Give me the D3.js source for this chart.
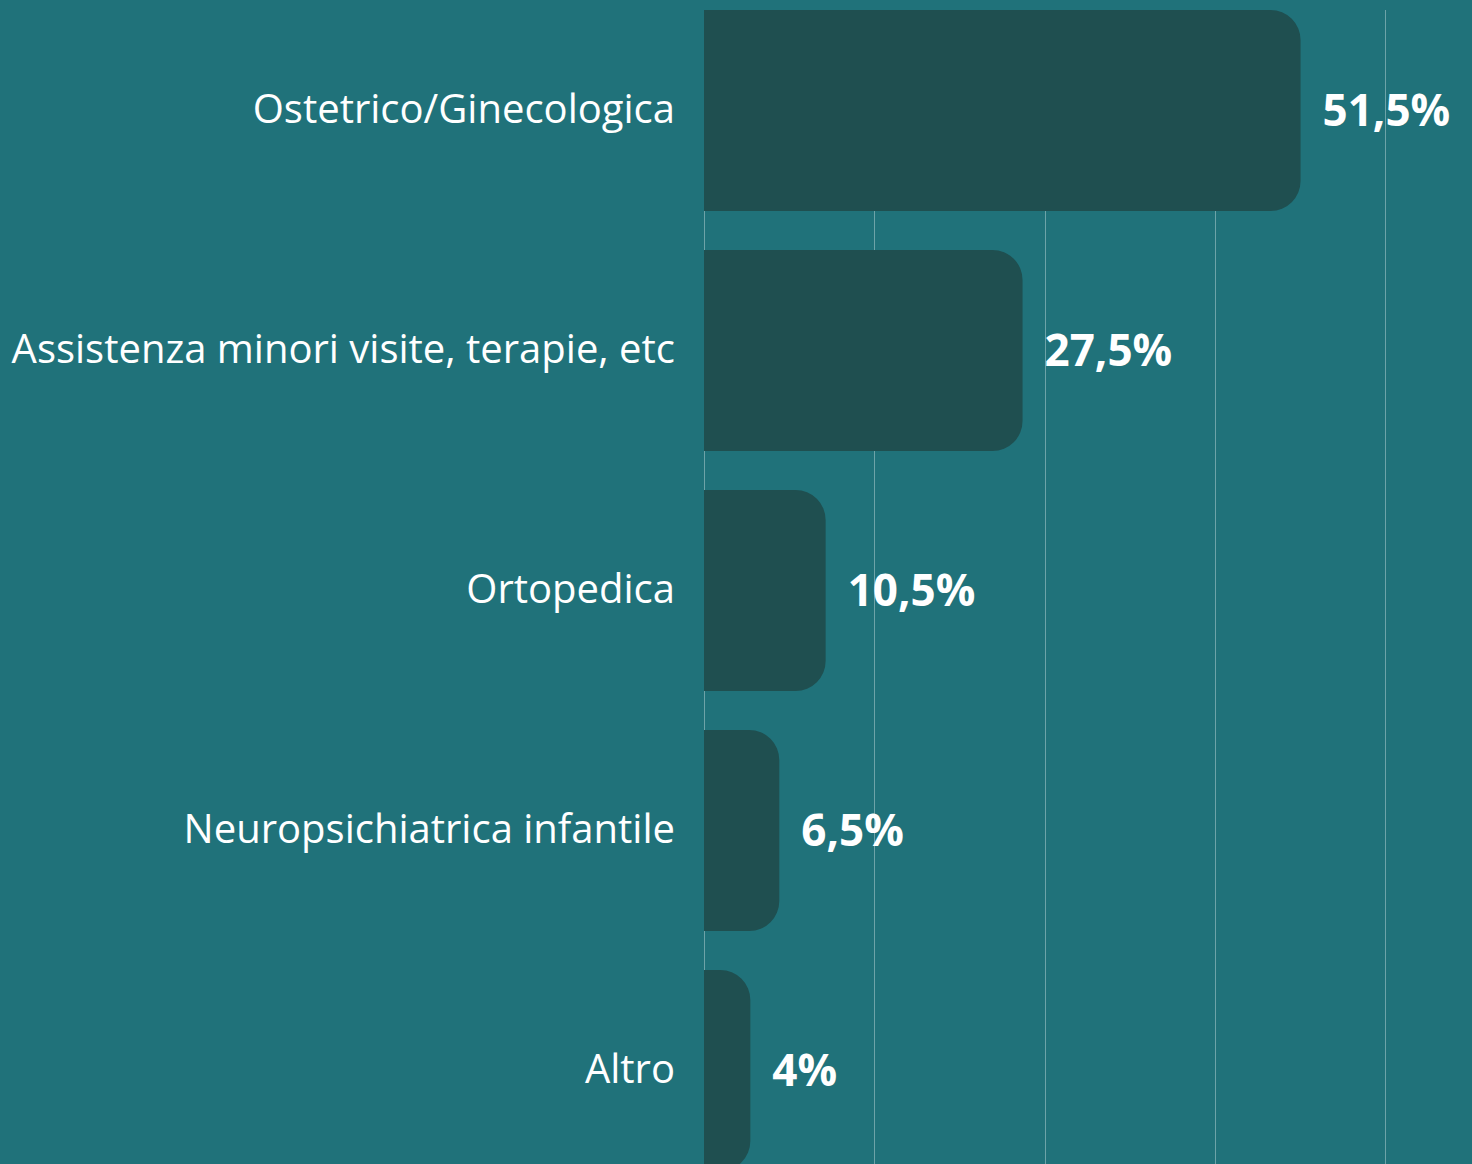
<!DOCTYPE html>
<html lang="it">
<head>
<meta charset="UTF-8">
<title>Chart</title>
<script src="https://cdn.jsdelivr.net/npm/d3@7"></script>
<style>
    html, body { margin: 0; padding: 0; background: #20727a; }
    svg { display: block; }
    .label { font-family: "Open Sans", sans-serif; font-size: 40px; fill: #ffffff; }
    .value { font-family: "Open Sans", sans-serif; font-size: 44px; font-weight: 700; fill: #ffffff; }
</style>
</head>
<body>
<script>
    // dati
    var categories = ["Ostetrico/Ginecologica", "Assistenza minori visite, terapie, etc", "Ortopedica", "Neuropsichiatrica infantile", "Altro"]
    var values = [51.5, 27.5, 10.5, 6.5, 4]
    var valueLabels = ["51,5%", "27,5%", "10,5%", "6,5%", "4%"]
    var gridTicks = [0, 14.7, 29.4, 44.1, 58.8]

    var width = 1472, height = 1164
    var marginLeft = 704, marginTop = 10

    var svg = d3.select("body").append("svg")
        .attr("width", width)
        .attr("height", height)

    svg.append("rect")
        .attr("width", width).attr("height", height)
        .attr("fill", "#20727a")

    var x = d3.scaleLinear()
        .domain([0, 66.3])
        .range([marginLeft, marginLeft + 768])

    // passo 240px, barra 201px
    var y = d3.scaleBand()
        .domain(categories)
        .range([marginTop, marginTop + 1161])
        .paddingInner(0.1625)
        .paddingOuter(0)

    // griglia verticale
    svg.append("g")
        .selectAll("line")
        .data(gridTicks)
        .enter()
        .append("line")
        .attr("x1", function(d) { return Math.round(x(d)) + 0.5 })
        .attr("x2", function(d) { return Math.round(x(d)) + 0.5 })
        .attr("y1", marginTop)
        .attr("y2", height)
        .attr("stroke", "rgba(255,255,255,0.35)")
        .attr("stroke-width", 1)

    // barre con angoli destri arrotondati
    var r = 30
    function barPath(d, i) {
        var x0 = x(0), x1 = x(d), y0 = y(categories[i]), h = y.bandwidth()
        var rr = Math.min(r, (x1 - x0))
        return "M" + x0 + "," + y0 +
            "H" + (x1 - rr) +
            "A" + rr + "," + rr + " 0 0 1 " + x1 + "," + (y0 + rr) +
            "V" + (y0 + h - rr) +
            "A" + rr + "," + rr + " 0 0 1 " + (x1 - rr) + "," + (y0 + h) +
            "H" + x0 + "Z"
    }

    svg.append("g")
        .selectAll("path")
        .data(values)
        .enter()
        .append("path")
        .attr("d", barPath)
        .attr("fill", "#1f4f50")

    // etichette categorie
    svg.append("g")
        .selectAll("text")
        .data(categories)
        .enter()
        .append("text")
        .attr("class", "label")
        .attr("x", marginLeft - 29)
        .attr("y", function(d) { return y(d) + y.bandwidth() / 2 })
        .attr("dy", "0.3em")
        .attr("text-anchor", "end")
        .text(function(d) { return d })

    // etichette valori
    svg.append("g")
        .selectAll("text")
        .data(values)
        .enter()
        .append("text")
        .attr("class", "value")
        .attr("x", function(d) { return x(d) + 22 })
        .attr("y", function(d, i) { return y(categories[i]) + y.bandwidth() / 2 })
        .attr("dy", "0.35em")
        .text(function(d, i) { return valueLabels[i] })
</script>
</body>
</html>
